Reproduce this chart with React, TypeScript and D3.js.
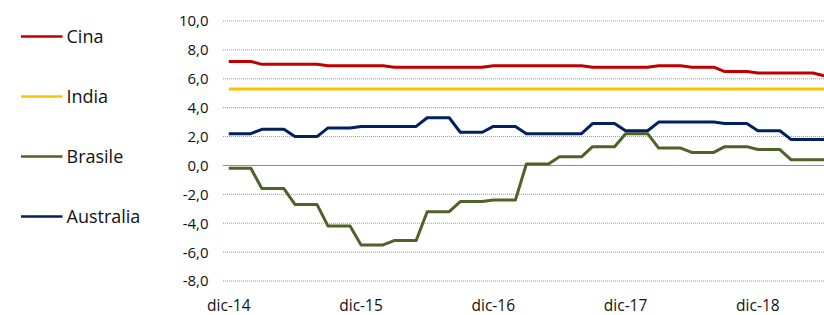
import React from "react";
import * as d3 from "d3";

const months = [
  "dic-14",
  "gen-15", "feb-15", "mar-15", "apr-15", "mag-15", "giu-15", "lug-15", "ago-15", "set-15", "ott-15", "nov-15", "dic-15",
  "gen-16", "feb-16", "mar-16", "apr-16", "mag-16", "giu-16", "lug-16", "ago-16", "set-16", "ott-16", "nov-16", "dic-16",
  "gen-17", "feb-17", "mar-17", "apr-17", "mag-17", "giu-17", "lug-17", "ago-17", "set-17", "ott-17", "nov-17", "dic-17",
  "gen-18", "feb-18", "mar-18", "apr-18", "mag-18", "giu-18", "lug-18", "ago-18", "set-18", "ott-18", "nov-18", "dic-18",
  "gen-19", "feb-19", "mar-19", "apr-19", "mag-19", "giu-19",
];

const cina = [
  7.2, 7.2, 7.2, 7.0, 7.0, 7.0, 7.0, 7.0, 7.0, 6.9, 6.9, 6.9,
  6.9, 6.9, 6.9, 6.8, 6.8, 6.8, 6.8, 6.8, 6.8, 6.8, 6.8, 6.8,
  6.9, 6.9, 6.9, 6.9, 6.9, 6.9, 6.9, 6.9, 6.9, 6.8, 6.8, 6.8,
  6.8, 6.8, 6.8, 6.9, 6.9, 6.9, 6.8, 6.8, 6.8, 6.5, 6.5, 6.5,
  6.4, 6.4, 6.4, 6.4, 6.4, 6.4, 6.2,
];

const india = [
  5.3, 5.3, 5.3, 5.3, 5.3, 5.3, 5.3, 5.3, 5.3, 5.3, 5.3, 5.3,
  5.3, 5.3, 5.3, 5.3, 5.3, 5.3, 5.3, 5.3, 5.3, 5.3, 5.3, 5.3,
  5.3, 5.3, 5.3, 5.3, 5.3, 5.3, 5.3, 5.3, 5.3, 5.3, 5.3, 5.3,
  5.3, 5.3, 5.3, 5.3, 5.3, 5.3, 5.3, 5.3, 5.3, 5.3, 5.3, 5.3,
  5.3, 5.3, 5.3, 5.3, 5.3, 5.3, 5.3,
];

const brasile = [
  -0.2, -0.2, -0.2, -1.6, -1.6, -1.6, -2.7, -2.7, -2.7, -4.2, -4.2, -4.2,
  -5.5, -5.5, -5.5, -5.2, -5.2, -5.2, -3.2, -3.2, -3.2, -2.5, -2.5, -2.5,
  -2.4, -2.4, -2.4, 0.1, 0.1, 0.1, 0.6, 0.6, 0.6, 1.3, 1.3, 1.3,
  2.2, 2.2, 2.2, 1.2, 1.2, 1.2, 0.9, 0.9, 0.9, 1.3, 1.3, 1.3,
  1.1, 1.1, 1.1, 0.4, 0.4, 0.4, 0.4,
];

const australia = [
  2.2, 2.2, 2.2, 2.5, 2.5, 2.5, 2.0, 2.0, 2.0, 2.6, 2.6, 2.6,
  2.7, 2.7, 2.7, 2.7, 2.7, 2.7, 3.3, 3.3, 3.3, 2.3, 2.3, 2.3,
  2.7, 2.7, 2.7, 2.2, 2.2, 2.2, 2.2, 2.2, 2.2, 2.9, 2.9, 2.9,
  2.4, 2.4, 2.4, 3.0, 3.0, 3.0, 3.0, 3.0, 3.0, 2.9, 2.9, 2.9,
  2.4, 2.4, 2.4, 1.8, 1.8, 1.8, 1.8,
];

const yTicks = [10, 8, 6, 4, 2, 0, -2, -4, -6, -8];
const xTickLabels = ["dic-14", "dic-15", "dic-16", "dic-17", "dic-18"];

const seriesNames = ["Cina", "India", "Brasile", "Australia"];
const seriesValues = [cina, india, brasile, australia];
const seriesColors = ["#C00000", "#FFC000", "#4F6228", "#002060"];

const W = 824;
const H = 315;
const font = "'Open Sans', 'Noto Sans', sans-serif";

export default function App() {
  const x = d3.scalePoint<string>().domain(months).range([228.8, 824]);
  const y = d3.scaleLinear().domain([-8, 10]).range([281, 21]);
  const gridX0 = 223;

  const line = d3
    .line<number>()
    .x((_, i) => x(months[i]) as number)
    .y((d) => y(d));

  const fmt = (v: number) => v.toFixed(1).replace(".", ",");

  return (
    <svg
      width={W}
      height={H}
      style={{ position: "absolute", left: 0, top: 0, background: "#fff" }}
    >
      <rect x={0} y={0} width={W} height={H} fill="#fff" />
      {yTicks.map((t) => (
        <g key={t}>
          {t === 0 ? (
            <line x1={gridX0} x2={W} y1={y(t)} y2={y(t)} stroke="#8c8c8c" strokeWidth={1} />
          ) : (
            <line
              x1={gridX0}
              x2={W}
              y1={y(t)}
              y2={y(t)}
              stroke="#9a9a9a"
              strokeWidth={1}
              strokeDasharray="1,1"
            />
          )}
          <text
            x={208.5}
            y={y(t)}
            dy="0.36em"
            textAnchor="end"
            fontFamily={font}
            fontSize={15}
            fill="#111"
          >
            {fmt(t)}
          </text>
        </g>
      ))}
      {xTickLabels.map((m) => (
        <text
          key={m}
          x={x(m) as number}
          y={310.5}
          textAnchor="middle"
          fontFamily={font}
          fontSize={15.5}
          fill="#111"
        >
          {m}
        </text>
      ))}
      {seriesValues.map((vals, i) => (
        <path
          key={seriesNames[i]}
          d={line(vals) || ""}
          fill="none"
          stroke={seriesColors[i]}
          strokeWidth={3}
          strokeLinejoin="round"
          strokeLinecap="butt"
        />
      ))}
      {seriesNames.map((n, i) => {
        const ly = 36.5 + i * 60;
        return (
          <g key={n}>
            <line x1={21} x2={62.5} y1={ly} y2={ly} stroke={seriesColors[i]} strokeWidth={2.5} />
            <text
              x={66.5}
              y={ly}
              dy="0.36em"
              fontFamily={font}
              fontSize={18}
              fill="#111"
            >
              {n}
            </text>
          </g>
        );
      })}
    </svg>
  );
}
